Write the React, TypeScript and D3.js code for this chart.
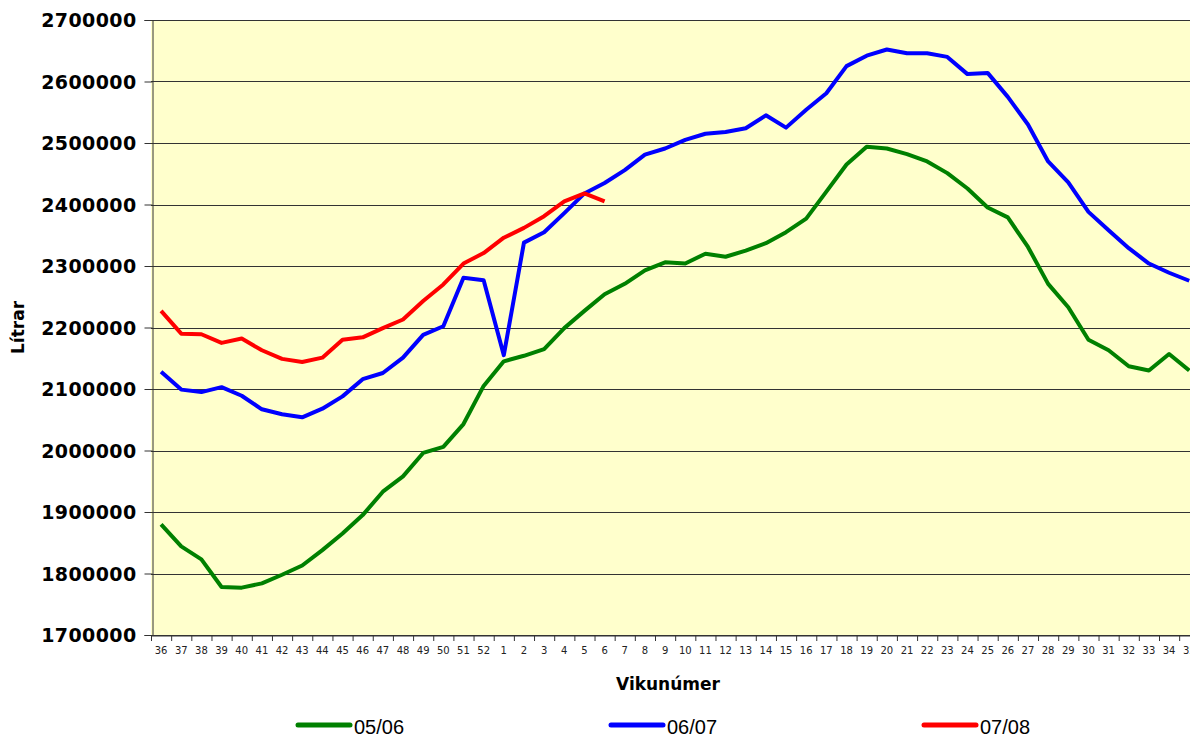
import React, { useEffect, useRef } from 'react'
import * as d3 from 'd3'

const weeks: string[] = [
    '36', '37', '38', '39', '40', '41', '42', '43', '44', '45', '46', '47', '48', '49', '50', '51', '52',
    '1', '2', '3', '4', '5', '6', '7', '8', '9', '10', '11', '12', '13', '14', '15', '16', '17', '18',
    '19', '20', '21', '22', '23', '24', '25', '26', '27', '28', '29', '30', '31', '32', '33', '34', '35'
]

// 05/06
const season0506: number[] = [
    1880000, 1844000, 1823000, 1778000, 1777000, 1784000, 1798000, 1813000, 1838000, 1865000, 1895000,
    1933000, 1958000, 1996000, 2006000, 2043000, 2105000,
    2145000, 2154000, 2165000, 2199000, 2227000, 2254000, 2271000, 2293000, 2306000, 2304000, 2320000,
    2315000, 2325000, 2337000, 2355000, 2377000, 2421000, 2465000, 2494000, 2491000, 2482000, 2470000,
    2451000, 2426000, 2395000, 2379000, 2331000, 2271000, 2233000, 2180000, 2163000, 2137000, 2130000,
    2157000, 2130000
]

// 06/07
const season0607: number[] = [
    2128000, 2099000, 2095000, 2103000, 2089000, 2067000, 2059000, 2054000, 2068000, 2088000, 2116000,
    2126000, 2151000, 2188000, 2202000, 2281000, 2277000,
    2155000, 2338000, 2355000, 2386000, 2418000, 2435000, 2456000, 2481000, 2491000, 2505000, 2515000,
    2518000, 2524000, 2545000, 2525000, 2554000, 2581000, 2625000, 2642000, 2652000, 2646000, 2646000,
    2640000, 2612000, 2614000, 2575000, 2530000, 2470000, 2436000, 2388000, 2358000, 2329000, 2304000,
    2289000, 2276000
]

// 07/08 (only up to week 6)
const season0708: number[] = [
    2227000, 2190000, 2189000, 2175000, 2182000, 2163000, 2149000, 2144000, 2151000, 2180000, 2184000,
    2199000, 2213000, 2243000, 2270000, 2304000, 2321000,
    2346000, 2362000, 2381000, 2405000, 2418000, 2405000
]

const seriesNames = ['05/06', '06/07', '07/08']
const colors = ['#008000', '#0000ff', '#ff0000']
const yTicks = [1700000, 1800000, 1900000, 2000000, 2100000, 2200000, 2300000, 2400000, 2500000, 2600000, 2700000]

export default function App() {
    const ref = useRef<HTMLDivElement>(null)

    let width = 1190, height = 737
    let left = 151, top = 20, bottom = 635, bandW = 20.16

    function drawChart() {
        d3.select(ref.current).selectAll('*').remove()

        var svg = d3.select(ref.current)
            .append('svg')
            .attr('width', width)
            .attr('height', height)
            .style('position', 'absolute')
            .style('left', 0)
            .style('top', 0)
            .style('background', '#ffffff')

        var x = d3.scaleBand()
            .domain(weeks)
            .range([left, left + bandW * weeks.length])
            .padding(0)

        var y = d3.scaleLinear()
            .domain([1700000, 2700000])
            .range([bottom, top])

        // plot area
        svg.append('rect')
            .attr('x', left)
            .attr('y', top)
            .attr('width', bandW * weeks.length)
            .attr('height', bottom - top)
            .attr('fill', '#ffffcc')

        // gridlines
        svg.append('g')
            .selectAll('line')
            .data(yTicks)
            .enter()
            .append('line')
            .attr('x1', left)
            .attr('x2', left + bandW * weeks.length)
            .attr('y1', (d: number) => Math.round(y(d)) + 0.5)
            .attr('y2', (d: number) => Math.round(y(d)) + 0.5)
            .attr('stroke', '#333333')
            .attr('stroke-width', 1)

        // y axis
        var yAxis = svg.append('g')
            .attr('transform', 'translate(' + (left + 1.5) + ',0)')
            .call(d3.axisLeft(y).tickValues(yTicks).tickSize(8).tickPadding(8).tickFormat(d3.format('d')))
        yAxis.select('.domain').attr('stroke', '#333333')
        yAxis.selectAll('.tick line').attr('stroke', '#333333')
        yAxis.selectAll('text')
            .attr('fill', '#000')
            .style('font-family', '"DejaVu Sans", Verdana, sans-serif')
            .style('font-weight', 'bold')
            .style('font-size', '19px')
            .style('letter-spacing', '0.4px')
            .attr('dy', '0.36em')

        // x axis
        var xAxis = svg.append('g')
            .attr('transform', 'translate(0,' + (bottom + 0.5) + ')')
            .call(d3.axisBottom(x).tickSize(0).tickPadding(11))
        xAxis.select('.domain').attr('stroke', '#333333')
        xAxis.selectAll('text')
            .attr('fill', '#222')
            .style('font-family', 'Tahoma, "DejaVu Sans", sans-serif')
            .style('font-size', '10px')

        // x ticks at band edges
        svg.append('g')
            .selectAll('line')
            .data(weeks)
            .enter()
            .append('line')
            .attr('x1', (d: string) => (x(d) as number) + 0.5)
            .attr('x2', (d: string) => (x(d) as number) + 0.5)
            .attr('y1', bottom)
            .attr('y2', bottom + 6)
            .attr('stroke', '#333333')

        // lines
        var line = d3.line<number>()
            .x((d: number, i: number) => (x(weeks[i]) as number) + x.bandwidth() / 2)
            .y((d: number) => y(d))

        ;[season0506, season0607, season0708].forEach((s, i) => {
            svg.append('path')
                .datum(s)
                .attr('d', line)
                .attr('fill', 'none')
                .attr('stroke', colors[i])
                .attr('stroke-width', 4)
                .attr('stroke-linejoin', 'round')
        })

        // axis titles
        svg.append('text')
            .attr('transform', 'translate(24,' + ((top + bottom) / 2) + ') rotate(-90)')
            .attr('text-anchor', 'middle')
            .text('Lítrar')
            .style('font-family', '"DejaVu Sans", Verdana, sans-serif')
            .style('font-weight', 'bold')
            .style('font-size', '17px')

        svg.append('text')
            .attr('x', 668)
            .attr('y', 690)
            .attr('text-anchor', 'middle')
            .text('Vikunúmer')
            .style('font-family', '"DejaVu Sans", Verdana, sans-serif')
            .style('font-weight', 'bold')
            .style('font-size', '17px')

        // legend
        var legendX = [298, 611, 924]
        var legend = svg.append('g')
            .selectAll('g')
            .data(seriesNames)
            .enter()
            .append('g')
            .attr('transform', (d: string, i: number) => 'translate(' + legendX[i] + ',725)')

        legend.append('line')
            .attr('x1', 0)
            .attr('x2', 52)
            .attr('y1', 0)
            .attr('y2', 0)
            .attr('stroke', (d: string, i: number) => colors[i])
            .attr('stroke-width', 5)
            .attr('stroke-linecap', 'round')

        legend.append('text')
            .attr('x', 56)
            .attr('y', 9)
            .text((d: string) => d)
            .style('font-family', '"Liberation Sans", Arial, sans-serif')
            .style('font-size', '20px')
    }

    useEffect(() => {
        drawChart()
    }, [])

    return (
        <div id='chart' ref={ref}></div>
    )
}
